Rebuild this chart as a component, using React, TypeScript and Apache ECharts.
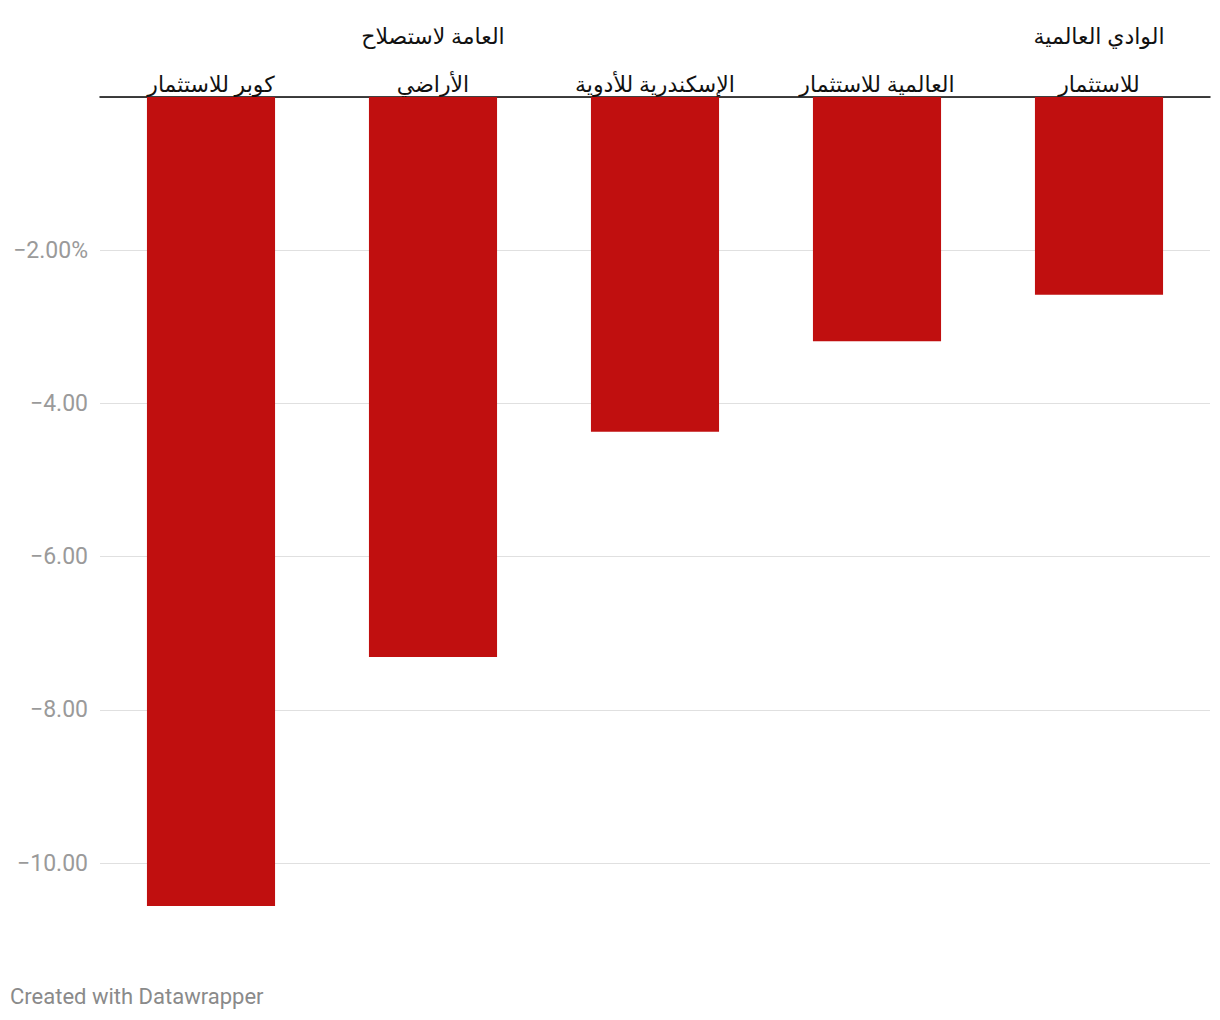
import React, { useEffect, useRef } from "react";
import * as echarts from "echarts";

const categories = [
  "كوبر للاستثمار",
  "العامة لاستصلاح\nالأراضي",
  "الإسكندرية للأدوية",
  "العالمية للاستثمار",
  "الوادي العالمية\nللاستثمار",
];
const values = [-10.56, -7.31, -4.37, -3.19, -2.58];
const footerText = "Created with Datawrapper";

export default function App() {
  const ref = useRef<HTMLDivElement>(null);
  useEffect(() => {
    document.body.style.margin = "0";
    const chart = echarts.init(ref.current!, null, { renderer: "svg" });
    chart.setOption({
      animation: false,
      backgroundColor: "#ffffff",
      grid: { left: 100, right: 10, top: 97, bottom: 111, containLabel: false },
      xAxis: {
        type: "category",
        position: "top",
        data: categories,
        axisLine: { show: true, onZero: false, lineStyle: { color: "#000000", width: 1.5 } },
        axisTick: { show: false },
        axisLabel: {
          color: "#111111",
          fontSize: 22,
          lineHeight: 48,
          margin: -10,
          interval: 0,
          fontFamily: "'Noto Sans', 'DejaVu Sans', sans-serif",
        },
      },
      yAxis: {
        type: "value",
        min: -10.6,
        max: 0,
        splitNumber: 5,
        axisLine: { show: false },
        axisTick: { show: false },
        splitLine: { show: true, showMinLine: false, lineStyle: { color: "#e0e0e0", width: 1 } },
        axisLabel: {
          showMinLabel: false,
          showMaxLabel: false,
          color: "#9a9a9a",
          fontSize: 23,
          margin: 12,
          fontFamily: "Roboto, sans-serif",
          formatter: (v: number) => {
            if (v === 0) return "";
            const s = "\u2212" + Math.abs(v).toFixed(2);
            return v === -2 ? s + "%" : s;
          },
        },
      },
      series: [
        {
          type: "bar",
          data: values,
          barWidth: "57.7%",
          itemStyle: { color: "#c00f0f" },
        },
      ],
      graphic: [
        {
          type: "text",
          left: 10,
          top: 985,
          style: {
            text: footerText,
            fill: "#8a8a8a",
            fontSize: 22,
            fontFamily: "Roboto, sans-serif",
          },
        },
      ],
    });
    return () => chart.dispose();
  }, []);
  return (
    <div
      ref={ref}
      style={{ position: "absolute", left: 0, top: 0, width: 1220, height: 1020 }}
    />
  );
}
